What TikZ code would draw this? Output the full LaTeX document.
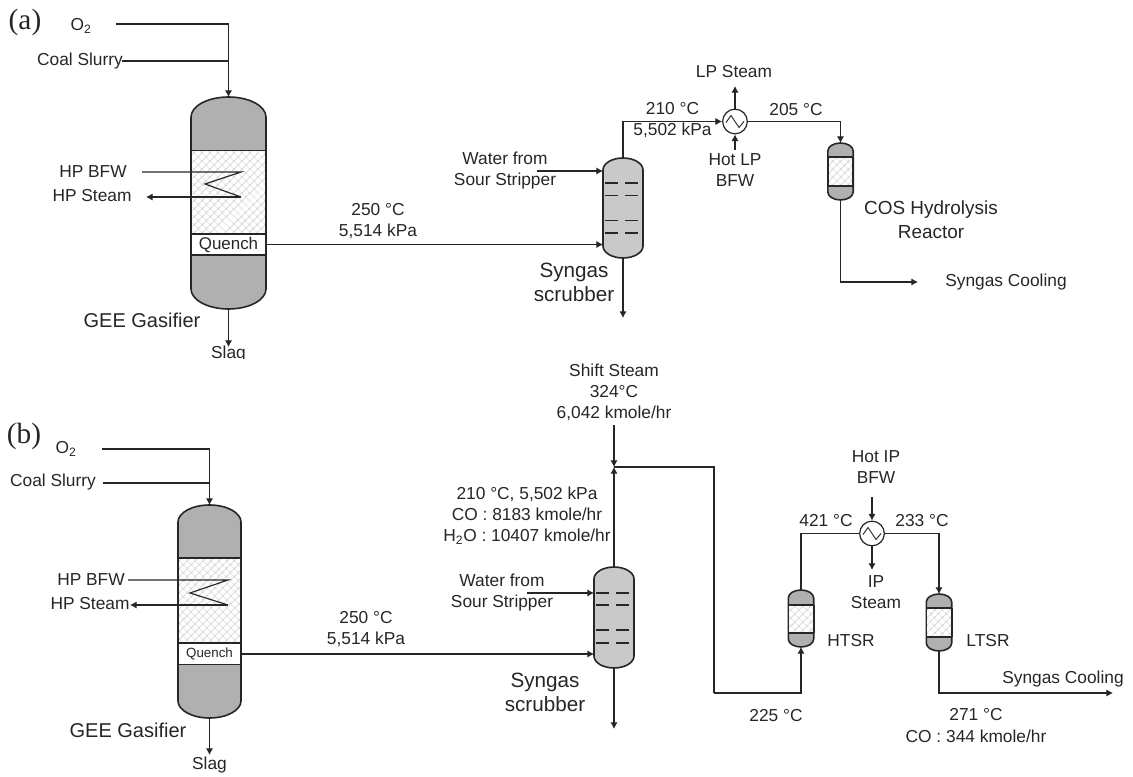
\documentclass[tikz,border=0pt]{standalone}
\usepackage{fontspec}
\setmainfont{Liberation Sans}
\newfontfamily\paneltimes{Liberation Serif}
\usepackage{tikz}
\usetikzlibrary{calc}
\usetikzlibrary{arrows.meta}
\usetikzlibrary{patterns.meta}
\definecolor{shell}{gray}{0.69}
\definecolor{scrub}{gray}{0.79}
\definecolor{ink}{gray}{0.15}
\tikzset{
  lbl/.style={font=\fontsize{13}{15.8}\selectfont, text=ink, align=center, inner sep=0pt},
  biglbl/.style={font=\fontsize{15}{18}\selectfont, text=ink, align=center, inner sep=0pt},
  panel/.style={font=\fontsize{22}{24}\paneltimes\selectfont, text=ink, inner sep=0pt},
  pipe/.style={draw=ink, line width=0.85pt},
  wall/.style={draw=ink, line width=1.2pt},
  tray/.style={draw=ink, line width=1.2pt},
  hxbox/.style={shape=circle, draw=ink, line width=0.9pt, fill=white, minimum size=18.5pt, inner sep=0pt,
    path picture={\draw[ink, line width=0.7pt] (path picture bounding box.center) ++(-9,1) -- ++(5,-7) -- ++(8,12) -- ++(5,-6);}},
  quenchbox/.style={shape=rectangle, draw=ink, line width=1.2pt, fill=white, text=ink, inner sep=0pt, outer sep=0pt}
}
% name, centre x, top, bottom, half width, head height, fill
\newcommand{\vessel}[7]{
  \pgfmathsetmacro{\vl}{#2-#5}\pgfmathsetmacro{\vr}{#2+#5}
  \pgfmathsetmacro{\vt}{#3+#6}\pgfmathsetmacro{\vb}{#4-#6}
  \pgfmathsetmacro{\vm}{(#3+#4)/2}
  \pgfmathsetmacro{\ctl}{#2-0.55*#5}\pgfmathsetmacro{\ctr}{#2+0.55*#5}
  \pgfmathsetmacro{\cyt}{\vt-0.55*#6}\pgfmathsetmacro{\cyb}{\vb+0.55*#6}
  \draw[wall, fill=#7] (\vl,\vt) .. controls (\vl,\cyt) and (\ctl,#3) .. (#2,#3)
    .. controls (\ctr,#3) and (\vr,\cyt) .. (\vr,\vt) -- (\vr,\vb)
    .. controls (\vr,\cyb) and (\ctr,#4) .. (#2,#4)
    .. controls (\ctl,#4) and (\vl,\cyb) .. (\vl,\vb) -- cycle;
  \node[name=#1, shape=rectangle, inner sep=0pt, outer sep=0pt, minimum width={2*#5*0.75pt}, minimum height={(#4-#3)*0.75pt}] at (#2,\vm) {};
}
% centre x, half width, top, bottom
\newcommand{\bed}[4]{
  \fill[white] (#1-#2,#3) rectangle (#1+#2,#4);
  \fill[pattern={Hatch[angle=45,distance=4pt,line width=0.5pt]}, pattern color=gray!38] (#1-#2,#3) rectangle (#1+#2,#4);
  \draw[wall] (#1-#2,#3) -- (#1+#2,#3) (#1-#2,#4) -- (#1+#2,#4);
  \draw[wall] (#1-#2,#3) -- (#1-#2,#4) (#1+#2,#3) -- (#1+#2,#4);
}
% first dash x, second dash x, y
\newcommand{\traypair}[3]{
  \draw[tray] (#1,#3) -- (#1+13,#3) (#2,#3) -- (#2+13,#3);
}
\begin{document}
\begin{tikzpicture}[x=0.75pt,y=-0.75pt,>={Latex[length=5pt,width=5.5pt]}]
\useasboundingbox (0,0) rectangle (1133,777);

% panel a
\node[name=panel_a, panel] at (25,22) {(a)};
\vessel{gasifier_a}{228.5}{97}{309}{37.5}{20}{shell}
\bed{228.5}{37.5}{150.5}{234}
\node[name=quench_a, quenchbox, minimum width=56.2pt, minimum height=15.5pt, font=\fontsize{12.7}{15}\selectfont] at (228.5,244.5) {Quench};
\vessel{scrubber_a}{623}{158}{258}{20}{12}{scrub}
\traypair{605}{625}{183}
\traypair{605}{625}{195.5}
\traypair{605}{625}{220.5}
\traypair{605}{625}{233}
\vessel{cos_a}{840.5}{143}{200}{12.7}{8}{shell}
\bed{840.5}{12.7}{157}{186}
\node[name=hx_a, hxbox] at (735,121.5) {};

\node[name=o2_a, lbl] at (81,26) {O\textsubscript{2}};
\node[name=coal_a, lbl] at (80,61) {Coal Slurry};
\node[name=bfw_a, lbl] at (93,172) {HP BFW};
\node[name=steam_a, lbl] at (92,196) {HP Steam};
\node[name=gee_a, biglbl] at (142,320) {GEE Gasifier};
\begin{scope}
\clip (150,300) rectangle (300,358.5);
\node[name=slag_a, lbl] at (228.5,354) {Slag};
\end{scope}
\node[name=feed_a, lbl] at (378,221.5) {250 °C\\5,514 kPa};
\node[name=water_a, lbl] at (505,170.5) {Water from\\Sour Stripper};
\node[name=syngas_a, biglbl, font=\fontsize{15.5}{18}\selectfont] at (574,282) {Syngas\\scrubber};
\node[name=top_a, lbl] at (672.5,120.5) {210 °C\\5,502 kPa};
\node[name=lp_a, lbl] at (734,72) {LP Steam};
\node[name=hot_a, lbl] at (735,170.5) {Hot LP\\BFW};
\node[name=t205_a, lbl] at (796,110) {205 °C};
\node[name=cosname_a, lbl, font=\fontsize{14.2}{18}\selectfont] at (931,220) {COS Hydrolysis\\Reactor};
\node[name=cool_a, lbl] at (1006,282) {Syngas Cooling};

\coordinate (o2_end_a) at (116,24);
\coordinate (coal_end_a) at (122,61);
\coordinate (bfw_end_a) at (142,172);
\coordinate (steam_end_a) at (146,197);
\coordinate (coil_top_a) at (241,172);
\coordinate (coil_mid_a) at (205,184);
\coordinate (coil_bot_a) at (241,197);
\coordinate (water_end_a) at (537,171);
\coordinate (slag_end_a) at (228.5,347);
\coordinate (drain_a) at (623,318);
\coordinate (lp_end_a) at (735,86);
\coordinate (hot_end_a) at (735,150);
\coordinate (cool_end_a) at (918,282);

\draw[pipe, ->](o2_end_a) -| (gasifier_a.north);
\draw[pipe](coal_end_a) -- (coal_end_a -| gasifier_a.north);
\draw[pipe](bfw_end_a) -- (coil_top_a) -- (coil_mid_a) -- (coil_bot_a);
\draw[pipe, ->](coil_bot_a) -- (steam_end_a);
\draw[pipe, ->](quench_a.east) -- (quench_a.east -| scrubber_a.west);
\draw[pipe, ->](gasifier_a.south) -- (slag_end_a);
\draw[pipe, ->](water_end_a) -- (water_end_a -| scrubber_a.west);
\draw[pipe, ->](scrubber_a.south) -- (drain_a);
\draw[pipe, ->](scrubber_a.north) |- (hx_a.west);
\draw[pipe, ->](hx_a.east) -| (cos_a.north);
\draw[pipe, ->](hx_a.north) -- (lp_end_a);
\draw[pipe, ->](hot_end_a) -- (hx_a.south);
\draw[pipe, ->](cos_a.south) |- (cool_end_a);

% panel b
\node[name=panel_b, panel] at (24,436) {(b)};
\vessel{gasifier_b}{209.5}{505}{718}{31.5}{17}{shell}
\bed{209.5}{31.5}{558}{643}
\node[name=quench_b, quenchbox, minimum width=47.2pt, minimum height=15.5pt, font=\fontsize{10}{12}\selectfont] at (209.5,654) {Quench};
\vessel{scrubber_b}{614}{567}{668}{20}{12}{scrub}
\traypair{596}{616}{593}
\traypair{596}{616}{605}
\traypair{596}{616}{630}
\traypair{596}{616}{643}
\vessel{htsr_b}{801}{590}{647}{12.7}{8}{shell}
\bed{801}{12.7}{605}{633}
\vessel{ltsr_b}{939}{594}{651}{12.7}{8}{shell}
\bed{939}{12.7}{608}{637}
\node[name=hx_b, hxbox] at (872,533.5) {};

\node[name=o2_b, lbl] at (66,449) {O\textsubscript{2}};
\node[name=coal_b, lbl] at (53,482) {Coal Slurry};
\node[name=bfw_b, lbl] at (91,580) {HP BFW};
\node[name=steam_b, lbl] at (90,604) {HP Steam};
\node[name=gee_b, biglbl] at (128,730) {GEE Gasifier};
\node[name=slag_b, lbl] at (209.5,765) {Slag};
\node[name=feed_b, lbl] at (366,629.5) {250 °C\\5,514 kPa};
\node[name=water_b, lbl] at (502,592.5) {Water from\\Sour Stripper};
\node[name=syngas_b, biglbl, font=\fontsize{15.5}{18}\selectfont] at (545,692) {Syngas\\scrubber};
\node[name=shift_b, lbl] at (614,392.5) {Shift Steam\\324°C\\6,042 kmole/hr};
\node[name=top_b, lbl] at (527,516) {210 °C, 5,502 kPa\\CO : 8183 kmole/hr\\H\textsubscript{2}O : 10407 kmole/hr};
\node[name=hot_b, lbl] at (876,467) {Hot IP\\BFW};
\node[name=t421_b, lbl] at (826,521) {421 °C};
\node[name=t233_b, lbl] at (922,521) {233 °C};
\node[name=ip_b, lbl] at (876,592) {IP\\Steam};
\node[name=htsrname_b, lbl] at (851,641) {HTSR};
\node[name=ltsrname_b, lbl] at (988,641) {LTSR};
\node[name=cool_b, lbl] at (1063,679) {Syngas Cooling};
\node[name=t225_b, lbl] at (776,716) {225 °C};
\node[name=t271_b, lbl] at (976,725.5) {271 °C\\CO : 344 kmole/hr};

\coordinate (o2_end_b) at (102,449);
\coordinate (coal_end_b) at (103,483);
\coordinate (bfw_end_b) at (128,580);
\coordinate (steam_end_b) at (130,605);
\coordinate (coil_top_b) at (228,580);
\coordinate (coil_mid_b) at (190,593);
\coordinate (coil_bot_b) at (228,605);
\coordinate (water_end_b) at (527,593);
\coordinate (slag_end_b) at (209.5,755);
\coordinate (drain_b) at (614,729);
\coordinate (shift_end_b) at (614,425);
\coordinate (mix_b) at (614,467);
\coordinate (riser_b) at (714,467);
\coordinate (low_b) at (714,693);
\coordinate (hot_end_b) at (872,497);
\coordinate (ip_end_b) at (872,570);
\coordinate (cool_end_b) at (1113,693);

\draw[pipe, ->](o2_end_b) -| (gasifier_b.north);
\draw[pipe](coal_end_b) -- (coal_end_b -| gasifier_b.north);
\draw[pipe](bfw_end_b) -- (coil_top_b) -- (coil_mid_b) -- (coil_bot_b);
\draw[pipe, ->](coil_bot_b) -- (steam_end_b);
\draw[pipe, ->](quench_b.east) -- (quench_b.east -| scrubber_b.west);
\draw[pipe, ->](gasifier_b.south) -- (slag_end_b);
\draw[pipe, ->](water_end_b) -- (water_end_b -| scrubber_b.west);
\draw[pipe, ->](scrubber_b.south) -- (drain_b);
\draw[pipe, ->](scrubber_b.north) -- (mix_b);
\draw[pipe, ->](shift_end_b) -- (mix_b);
\draw[pipe](mix_b) -- (riser_b) -- (low_b);
\draw[pipe, ->](low_b) -| (htsr_b.south);
\draw[pipe](htsr_b.north) |- (hx_b.west);
\draw[pipe, ->](hx_b.east) -| (ltsr_b.north);
\draw[pipe, ->](hot_end_b) -- (hx_b.north);
\draw[pipe, ->](hx_b.south) -- (ip_end_b);
\draw[pipe, ->](ltsr_b.south) |- (cool_end_b);
\end{tikzpicture}
\end{document}
